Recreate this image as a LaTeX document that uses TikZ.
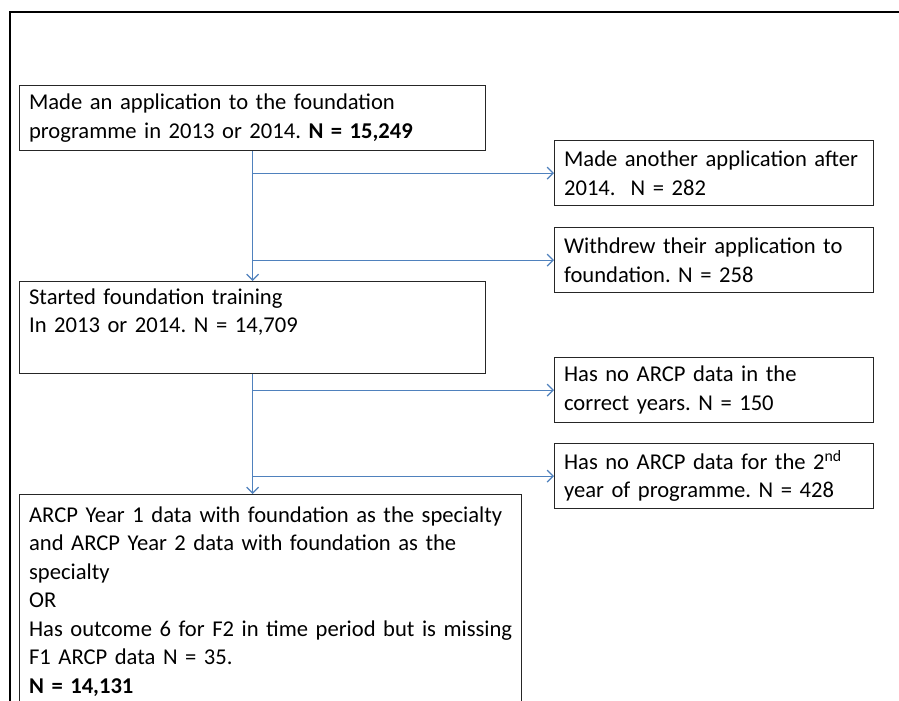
\documentclass[tikz,border=0pt]{standalone}
\usepackage{fontspec}
\setmainfont{Carlito}
\usetikzlibrary{arrows.meta}
\frenchspacing

\begin{document}
\begin{tikzpicture}[x = 1pt, y = -1pt,
  box/.style = {draw = black!85, line width = 1.2pt, anchor = north west, align = left,
    inner xsep = 9.5pt, inner ysep = 7pt, font = \fontsize{22.6}{28.5}\selectfont},
  left box/.style = {box, text width = 447pt, minimum height = 65pt},
  side box/.style = {box, text width = 300pt, minimum height = 65pt},
  flow/.style = {color = {rgb,255:red,79;green,129;blue,189}, line width = 1.2pt},
  > = {Straight Barb[length = 6pt, width = 12pt]}]
\useasboundingbox (0,0) rectangle (899,701);
\clip (0,0) rectangle (899,701);
\fill [white] (0,0) rectangle (899,701);
\draw [line width = 2.2pt] (10,720) -- (10,12) -- (920,12);
\node [left box] (apply) at (19,85) {Made an application to the foundation\\programme in 2013 or 2014. \textbf{N = 15,249}};
\node [side box] (another) at (554,140) {Made another application after\\2014.\ \ N = 282};
\node [side box] (withdrew) at (554,227) {Withdrew their application to\\foundation. N = 258};
\node [box, text width = 447pt, text depth = 62pt] (started) at (19,281) {Started foundation training\\In 2013 or 2014. N = 14,709};
\node [side box] (nodata) at (554,357) {Has no ARCP data in the\\correct years. N = 150};
\node [side box] (nosecond) at (554,443) {Has no ARCP data for the 2\textsuperscript{nd}\\year of programme. N = 428};
\node [box, inner ysep = 12pt, text width = 483pt, text depth = 220pt] (final) at (19,494) {ARCP Year 1 data with foundation as the specialty\\and ARCP Year 2 data with foundation as the\\specialty\\OR\\\mbox{Has outcome 6 for F2 in time period but is missing}\\F1 ARCP data N = 35.\\\textbf{N = 14,131}};
\draw [flow, ->] (apply.south) -- (apply.south |- started.north);
\draw [flow, ->] (apply.south |- another.west) -- (another.west);
\draw [flow, ->] (apply.south |- withdrew.west) -- (withdrew.west);
\draw [flow, ->] (started.south) -- (started.south |- final.north);
\draw [flow, ->] (started.south |- nodata.west) -- (nodata.west);
\draw [flow, ->] (started.south |- nosecond.west) -- (nosecond.west);
\end{tikzpicture}
\end{document}
